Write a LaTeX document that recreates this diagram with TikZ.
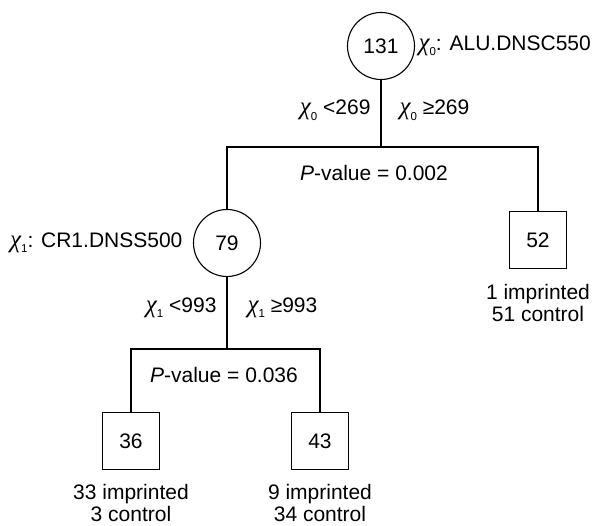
\documentclass[tikz,border=0pt]{standalone}
\usepackage{fontspec}
\setmainfont{Liberation Sans}
\newfontfamily\grkfont{Liberation Serif}
\usetikzlibrary{positioning}

% variable name: italic chi with a small index
\newcommand{\chiv}[1]{{\grkfont\itshape\fontsize{25}{25}\selectfont χ}\raisebox{-0.25em}{\fontsize{11.5}{11.5}\selectfont #1}}

\begin{document}
\begin{tikzpicture}[
			x=1pt,y=-1pt,
			font=\fontsize{21}{21.5}\selectfont,
			line width=1.1pt,
			decision/.style={draw,circle,minimum size=67pt,inner sep=0pt},
			leaf/.style={draw,minimum size=57pt,inner sep=0pt},
			cond/.style={inner sep=0pt},
			pval/.style={inner sep=0pt},
			count/.style={inner sep=0pt,align=center}
			]
			\useasboundingbox (0,0) rectangle (598,526);
			\node[decision] (n131) at (381,46) {131};
			\node[decision] (n79) at (227,243) {79};
			\node[leaf] (n52) at (538,240) {52};
			\node[leaf] (n36) at (131,441) {36};
			\node[leaf] (n43) at (320,441) {43};
			\coordinate[below=67pt of n131] (split0);
			\coordinate[below=72pt of n79] (split1);
			\node[cond, right=3pt of n131] (var0) {\chiv{0}: ALU.DNSC550};
			\node[cond, left=10pt of n79] (var1) {\chiv{1}: CR1.DNSS500};
			\node[pval, below=18pt of split0, xshift=-7pt] (p0) {\textit{P}-value = 0.002};
			\node[pval, below=18pt of split1, xshift=-3pt] (p1) {\textit{P}-value = 0.036};
			\node[count, below=15pt of n52] (c52) {1 imprinted\\51 control};
			\node[count, below=14pt of n36] (c36) {33 imprinted\\3 control};
			\node[count, below=14pt of n43] (c43) {9 imprinted\\34 control};
			\draw (n131.south) -- node[cond, pos=0.45, left=10pt] {\chiv{0} <269} node[cond, pos=0.45, right=18pt] {\chiv{0} ≥269} (split0);
			\draw (n79.north) |- (split0) -| (n52.north);
			\draw (n79.south) -- node[cond, pos=0.43, left=10pt] {\chiv{1} <993} node[cond, pos=0.43, right=20pt] {\chiv{1} ≥993} (split1);
			\draw (n36.north) |- (split1) -| (n43.north);
		\end{tikzpicture}
\end{document}
